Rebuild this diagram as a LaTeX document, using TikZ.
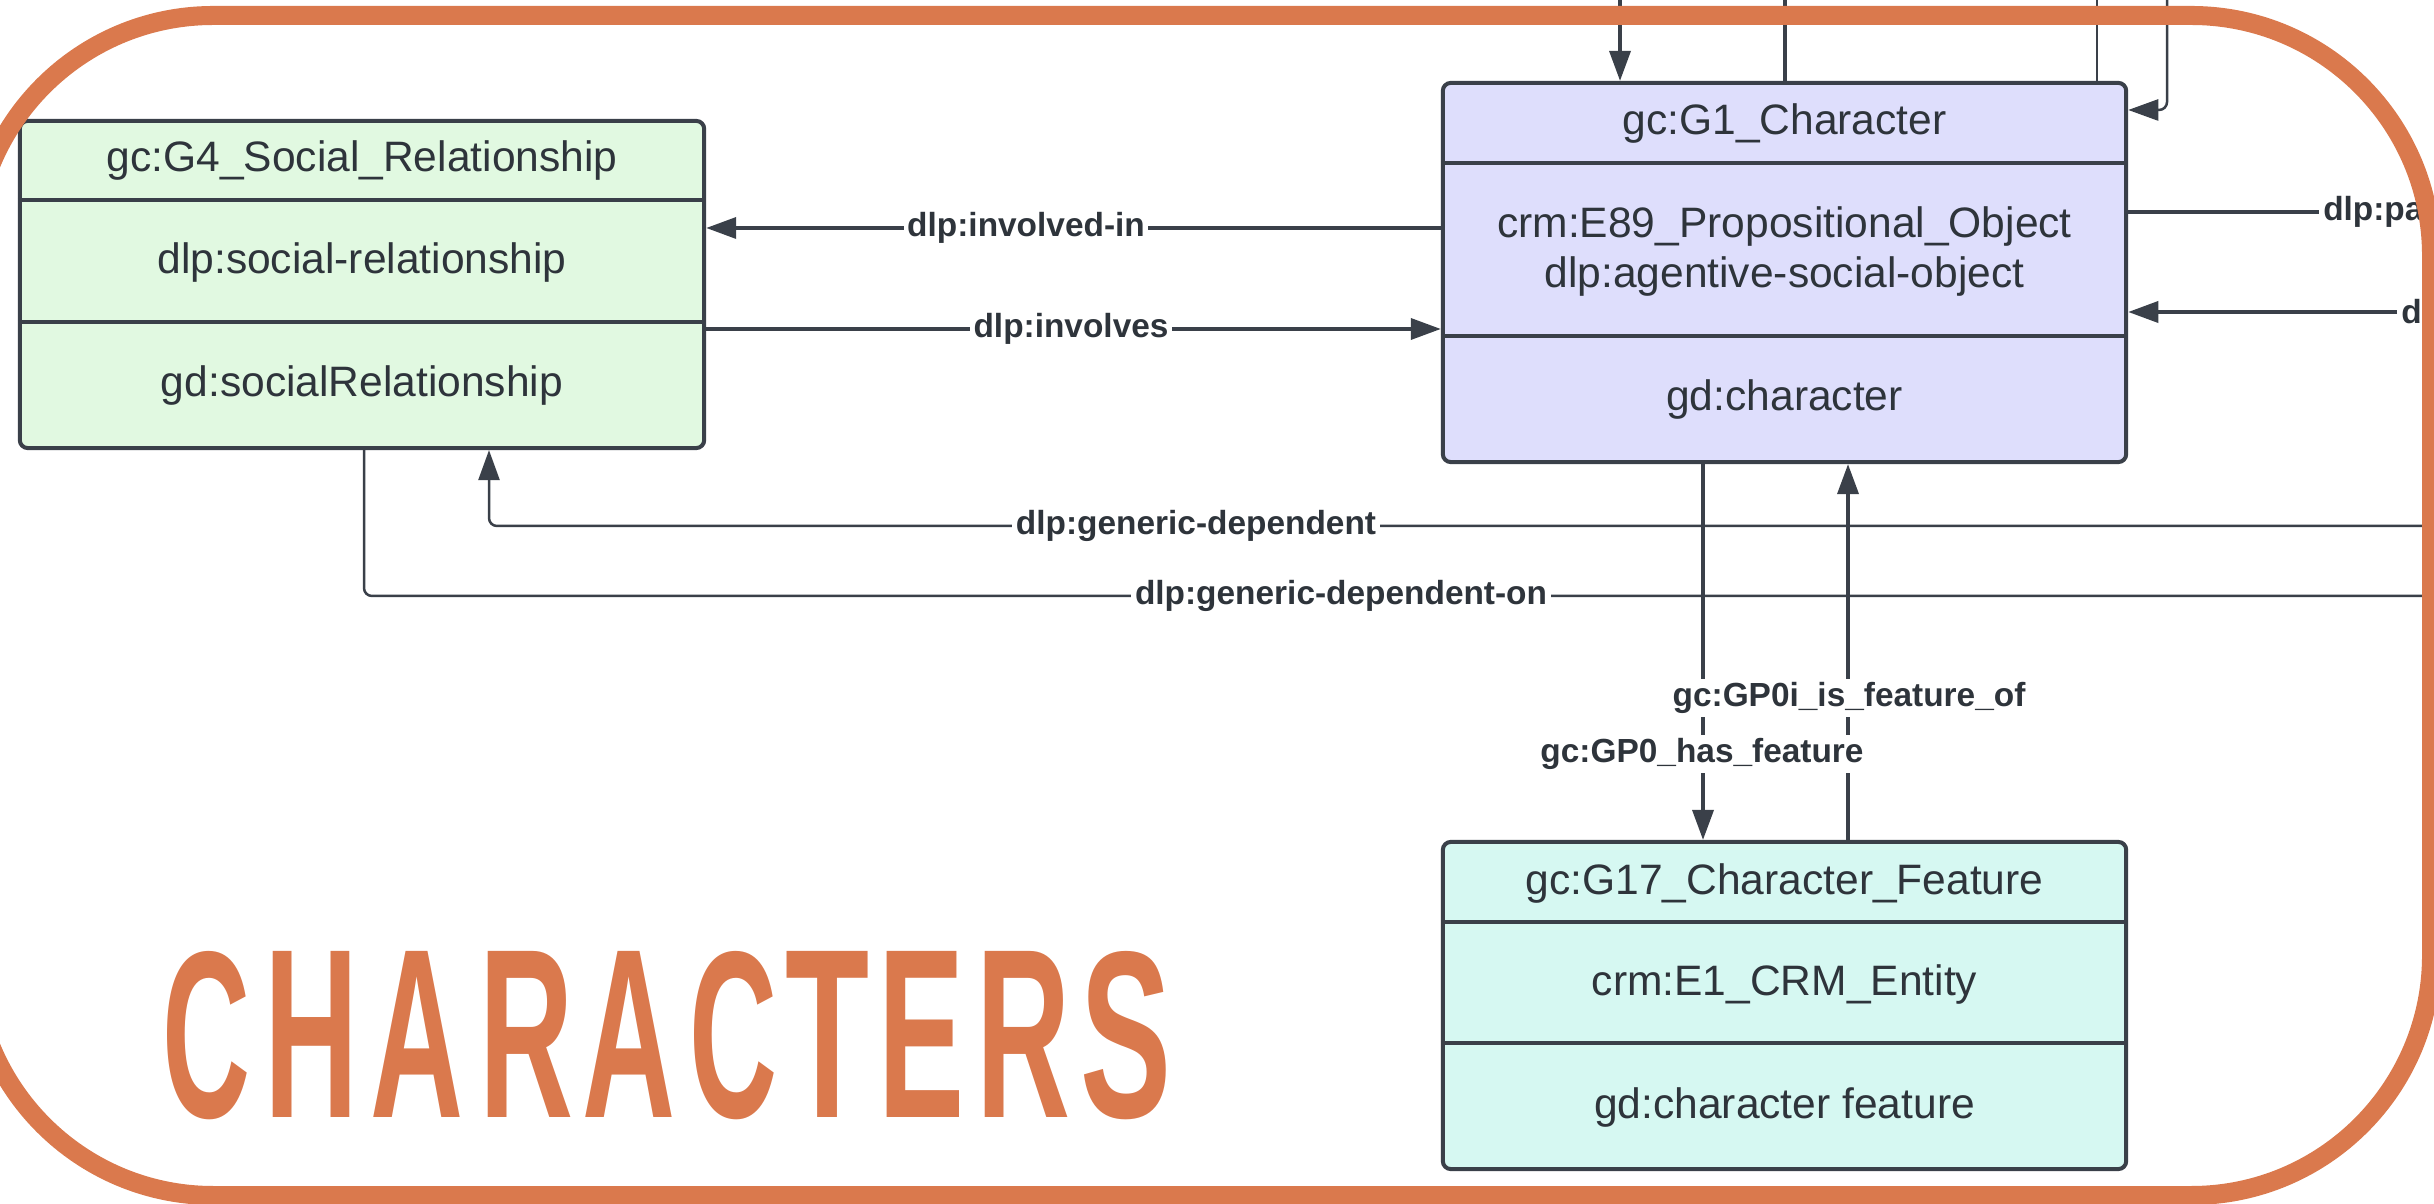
\documentclass[tikz,border=0pt]{standalone}
\usepackage{fontspec}
\usepackage{graphicx}
\setmainfont{Liberation Sans}
\usetikzlibrary{arrows.meta}
\definecolor{frameorange}{RGB}{218,121,77}
\definecolor{edgegray}{RGB}{58,64,73}
\definecolor{txtgray}{RGB}{46,52,59}
\definecolor{socialfill}{RGB}{225,249,225}
\definecolor{charfill}{RGB}{222,222,252}
\definecolor{featfill}{RGB}{214,248,242}
\tikzstyle{classbox}=[draw=edgegray,line width=0.04cm,rounded corners=0.08cm,inner sep=0pt]
\tikzstyle{divider}=[draw=edgegray,line width=0.04cm]
\tikzstyle{classtext}=[text=txtgray,font=\fontsize{12.1}{14.2}\selectfont,align=center,inner sep=0pt]
\tikzstyle{rel}=[draw=edgegray,line width=0.036cm,-{Triangle[length=0.3cm,width=0.21cm]}]
\tikzstyle{relplain}=[draw=edgegray,line width=0.036cm]
\tikzstyle{relthin}=[line width=0.025cm]
\tikzstyle{rellabel}=[fill=white,text=txtgray,font=\bfseries\fontsize{9.5}{11}\selectfont,inner sep=1pt]
\tikzstyle{titlechar}=[text=frameorange,font=\bfseries,inner sep=0pt,anchor=north]
\newcommand{\splitbox}[2]{% box name, depth of the divider below the top
  \draw[divider] ([yshift=-#2]#1.north west) -- ([yshift=-#2]#1.north east);
}
\begin{document}
\begin{tikzpicture}[x=0.01cm,y=-0.01cm]
\useasboundingbox (0,0) rectangle (2434,1204);
\clip (0,0) rectangle (2434,1204);
% classes
\node[classbox,fill=socialfill,minimum width=6.84cm,minimum height=3.27cm] (g4) at (362,284.5) {};
\splitbox{g4}{0.81cm}
\splitbox{g4}{2.03cm}
\node[classtext] (g4name) at (362,161) {gc:G4\_Social\_Relationship};
\node[classtext] (g4dlp) at (362,263) {dlp:social-relationship};
\node[classtext] (g4gd) at (362,386) {gd:socialRelationship};
\node[classbox,fill=charfill,minimum width=6.83cm,minimum height=3.79cm] (g1) at (1784.5,272.5) {};
\splitbox{g1}{0.82cm}
\splitbox{g1}{2.55cm}
\node[classtext] (g1name) at (1784.5,124) {gc:G1\_Character};
\node[classtext] (g1crm) at (1784.5,251.5) {crm:E89\_Propositional\_Object\\dlp:agentive-social-object};
\node[classtext] (g1gd) at (1784.5,400) {gd:character};
\node[classbox,fill=featfill,minimum width=6.83cm,minimum height=3.27cm] (g17) at (1784.5,1005.5) {};
\splitbox{g17}{0.82cm}
\splitbox{g17}{2.03cm}
\node[classtext] (g17name) at (1784.5,883) {gc:G17\_Character\_Feature};
\node[classtext] (g17crm) at (1784.5,984.5) {crm:E1\_CRM\_Entity};
\node[classtext] (g17gd) at (1784.5,1107) {gd:character feature};
% relations
\coordinate (invInY) at (0,228);
\coordinate (invY) at (0,329);
\draw[rel] (invInY -| g1.west) -- (invInY -| g4.east);
\draw[rel] (invY -| g4.east) -- (invY -| g1.west);
\coordinate (gdEnd) at (2450,526);
\coordinate (gdBend) at (489,526);
\draw[rel,relthin,rounded corners=0.08cm] (gdEnd) -- (gdBend) -- (gdBend |- g4.south);
\coordinate (gdoBend) at (364,596);
\coordinate (gdoEnd) at (2450,596);
\draw[relplain,relthin,rounded corners=0.08cm] (gdoBend |- g4.south) -- (gdoBend) -- (gdoEnd);
\coordinate (hasX) at (1703,0);
\coordinate (isX) at (1848,0);
\draw[rel] (hasX |- g1.south) -- (hasX |- g17.north);
\draw[rel] (isX |- g17.north) -- (isX |- g1.south);
\coordinate (topIn) at (1620,0);
\coordinate (topOutA) at (1785,0);
\coordinate (topOutB) at (2097,0);
\coordinate (loopIn) at (2167,0);
\coordinate (loopBend) at (2167,110);
\draw[rel] (topIn) -- (topIn |- g1.north);
\draw[relplain] (topOutA |- g1.north) -- (topOutA);
\draw[relplain,relthin] (topOutB |- g1.north) -- (topOutB);
\draw[rel,relthin,rounded corners=0.08cm] (loopIn) -- (loopBend) -- (loopBend -| g1.east);
\coordinate (paEnd) at (2319,212);
\coordinate (dlStart) at (2397,312);
\draw[relplain] (paEnd -| g1.east) -- (paEnd);
\draw[rel] (dlStart) -- (dlStart -| g1.east);
% labels go on top of every line
\node[rellabel] (lInvIn) at (1026,228) {dlp:involved-in};
\node[rellabel] (lInv) at (1071,329) {dlp:involves};
\node[rellabel] (lGenDep) at (1196,526) {dlp:generic-dependent};
\node[rellabel] (lGenDepOn) at (1341,596) {dlp:generic-dependent-on};
\node[rellabel] (lIsOf) at (1849,698) {gc:GP0i\_is\_feature\_of};
\node[rellabel] (lHas) at (1702,754) {gc:GP0\_has\_feature};
\node[rellabel,anchor=west] (lPa) at (paEnd) {dlp:pa};
\node[rellabel,anchor=west] (lDl) at (dlStart) {dl};
% title
\foreach \tchar/\xc/\cw [count=\i] in {C/206.5/8.8mm,H/311.5/9.4mm,A/417.5/9.3mm,R/527/9.4mm,A/629.5/9.3mm,C/733.5/8.8mm,T/828/8.4mm,E/922/8.6mm,R/1024/9.4mm,S/1126.5/9.1mm}
  \node[titlechar] (title\i) at (\xc,951) {\resizebox{\cw}{16.6mm}{\tchar}};
% frame
\draw[frameorange,line width=0.19cm,rounded corners=2.4cm] (-27,15.5) rectangle (2431.5,1195.5);
\end{tikzpicture}
\end{document}
